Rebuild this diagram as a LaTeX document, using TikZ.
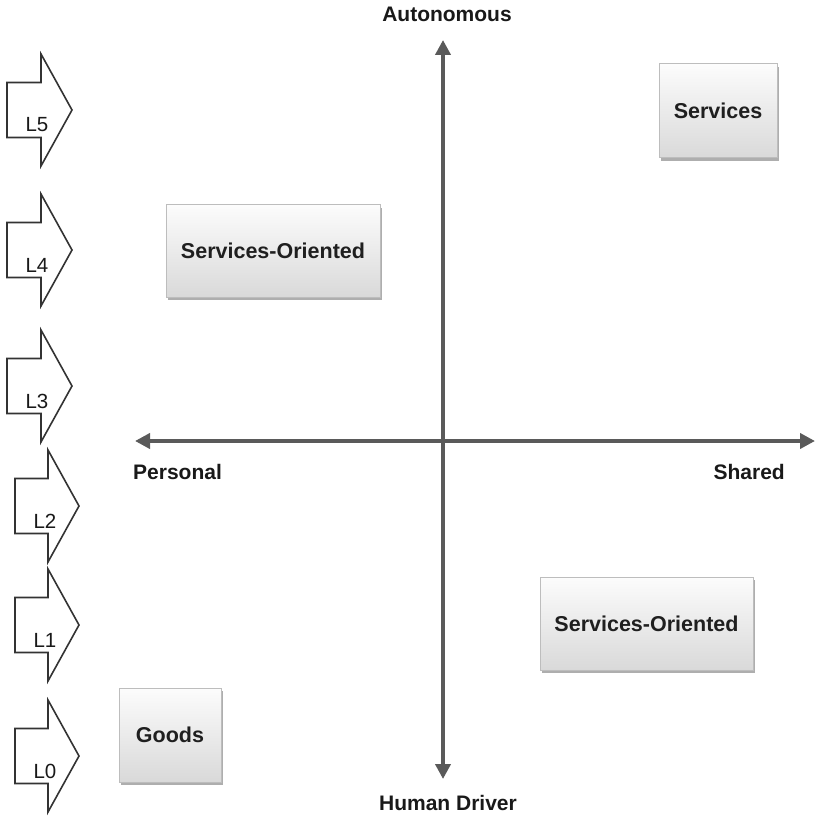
\documentclass[tikz,border=0pt]{standalone}
\usepackage{fontspec}
\setmainfont{Liberation Sans}
\usetikzlibrary{arrows.meta,shadows}
\definecolor{axisgray}{HTML}{5A5A5A}
\definecolor{outlinegray}{HTML}{333333}
\definecolor{boxedge}{HTML}{BDBDBD}
\definecolor{boxtop}{HTML}{FCFCFC}
\definecolor{boxbot}{HTML}{D9D9D9}
\definecolor{shadowgray}{HTML}{9A9A9A}
\tikzset{
  axisline/.style={line width=4pt, draw=axisgray, {Triangle[length=15pt,width=15pt]}-{Triangle[length=15pt,width=15pt]}},
  axislabel/.style={font=\fontsize{21}{25}\selectfont\bfseries, text=black!90, inner sep=0pt},
  quadbox/.style={draw=boxedge, line width=1pt, top color=boxtop, bottom color=boxbot,
    font=\fontsize{21.5}{25}\selectfont\bfseries, text=black!88, inner sep=0pt,
    drop shadow={shadow xshift=2pt, shadow yshift=-3pt, fill=shadowgray, opacity=0.8}},
  lvlshape/.style={draw=outlinegray, line width=1.6pt, fill=white, line join=miter},
  lvllabel/.style={font=\fontsize{20.5}{24}\selectfont, text=black!90, inner sep=0pt},
}
% #1 left x, #2 shaft x, #3 tip y, #4 label, #5 node name
\newcommand\lvlarrow[5]{%
  \draw[lvlshape] (#1,#3-27.5) -- (#2,#3-27.5) -- (#2,#3-56) -- (#2+31,#3) -- (#2,#3+56) -- (#2,#3+27.5) -- (#1,#3+27.5) -- cycle;
  \node[lvllabel] (#5) at (#1+30,#3+15) {#4};
}
\begin{document}
\begin{tikzpicture}[x=1pt,y=-1pt]
\useasboundingbox (0,0) rectangle (816,818);
\fill[white] (0,0) rectangle (816,818);

% level arrows
\lvlarrow{7}{41}{110}{L5}{l5}
\lvlarrow{7}{41}{250}{L4}{l4}
\lvlarrow{7}{41}{386}{L3}{l3}
\lvlarrow{15}{48}{506}{L2}{l2}
\lvlarrow{15}{48}{625}{L1}{l1}
\lvlarrow{15}{48}{756}{L0}{l0}

% axes
\coordinate (top) at (443,40);
\coordinate (bottom) at (443,779);
\coordinate (left) at (135,441);
\coordinate (right) at (815,441);
\draw[axisline] (left) -- (right);
\draw[axisline] (bottom) -- (top);

% axis labels
\node[axislabel] (auto) at (447,14) {Autonomous};
\node[axislabel] (human) at (448,803) {Human Driver};
\node[axislabel, anchor=west] (personal) at (133,472) {Personal};
\node[axislabel, anchor=east] (shared) at (785,472) {Shared};

% quadrant boxes
\node[quadbox, minimum width=118pt, minimum height=94pt] (services) at (718,111) {Services};
\node[quadbox, minimum width=214pt, minimum height=92pt] (so1) at (273,251) {Services-Oriented};
\node[quadbox, minimum width=213pt, minimum height=93pt] (so2) at (646.5,623.5) {Services-Oriented};
\node[quadbox, minimum width=102pt, minimum height=94pt] (goods) at (170,735) {Goods};
\end{tikzpicture}
\end{document}
